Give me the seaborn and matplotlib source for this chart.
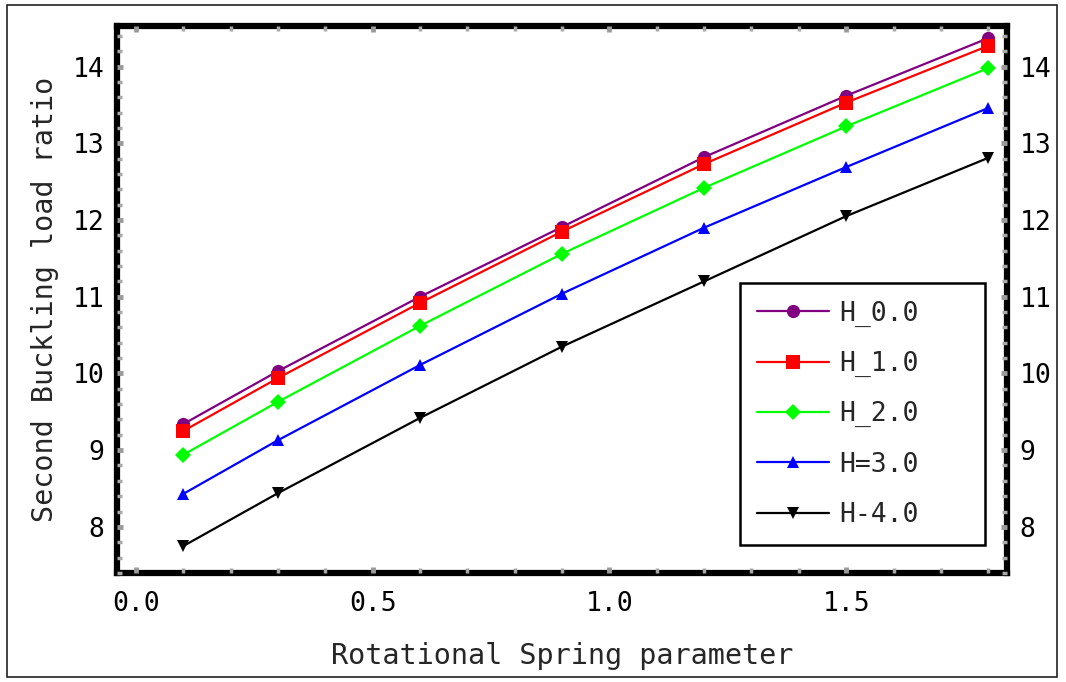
import pandas as pd
import seaborn as sns
import matplotlib.pyplot as plt
from matplotlib.patches import Rectangle
from matplotlib.ticker import MultipleLocator

sns.set_style("white")
plt.rcParams['font.family'] = ['DejaVu Sans Mono']

# spring parameter values
springParam = [0.1, 0.3, 0.6, 0.9, 1.2, 1.5, 1.8]

# second buckling load ratio per H value
h0 = [9.34, 10.03, 11.00, 11.91, 12.82, 13.62, 14.37]
h1 = [9.25, 9.94, 10.92, 11.85, 12.73, 13.53, 14.27]
h2 = [8.94, 9.63, 10.62, 11.56, 12.42, 13.22, 13.98]
h3 = [8.43, 9.13, 10.11, 11.04, 11.90, 12.69, 13.46]
h4 = [7.75, 8.44, 9.42, 10.35, 11.20, 12.05, 12.81]

seriesNames = ["H_0.0", "H_1.0", "H_2.0", "H=3.0", "H-4.0"]
seriesValues = [h0, h1, h2, h3, h4]

rows = []
for name, vals in zip(seriesNames, seriesValues):
    for x, y in zip(springParam, vals):
        rows.append({"spring": x, "ratio": y, "H": name})
df = pd.DataFrame(rows)

colors = dict(zip(seriesNames, ["#800080", "#ff0000", "#00ff00", "#0000ff", "#000000"]))
markers = dict(zip(seriesNames, ["o", "s", "D", "^", "v"]))
msizes = dict(zip(seriesNames, [9.5, 9.5, 8, 8.5, 8.5]))

fig = plt.figure(figsize=(10.66, 6.82), dpi=100)
ax = fig.add_axes([0.1098, 0.16, 0.835, 0.802])

sns.lineplot(data=df, x="spring", y="ratio", hue="H", style="H",
             hue_order=seriesNames, style_order=seriesNames,
             palette=colors, markers=markers, dashes=False,
             linewidth=1.6, markeredgewidth=0, ax=ax)

for line, name in zip(ax.lines, seriesNames):
    line.set_markersize(msizes[name])

ax.set_xlim(-0.04, 1.84)
ax.set_ylim(7.4, 14.53)
ax.xaxis.set_major_locator(MultipleLocator(0.5))
ax.xaxis.set_minor_locator(MultipleLocator(0.1))
ax.yaxis.set_major_locator(MultipleLocator(1))
ax.yaxis.set_minor_locator(MultipleLocator(0.2))
ax.xaxis.set_major_formatter(plt.FormatStrFormatter('%.1f'))

# thick black frame with grey ticks sitting on it
for sp in ax.spines.values():
    sp.set_linewidth(4.5)
    sp.set_color("black")
    sp.set_zorder(1)
ax.xaxis.set_zorder(3)
ax.yaxis.set_zorder(3)

ax.tick_params(which="both", direction="in", bottom=True, left=True,
               top=True, right=True, labelright=True, labelsize=19,
               labelcolor="black")
ax.tick_params(which="major", length=4.5, width=3.5, color="#9a9a9a")
ax.tick_params(which="minor", length=3.5, width=2.5, color="#a8a8a8")
ax.tick_params(axis="x", which="both", pad=13)
ax.tick_params(axis="y", which="both", pad=9)

ax.set_xlabel("Rotational Spring parameter", fontsize=20.5, labelpad=18)
ax.set_ylabel("Second Buckling load ratio", fontsize=20.5, labelpad=10)

leg = ax.legend(loc="lower left", bbox_to_anchor=(0.700, 0.051, 0.275, 0.485),
                mode="expand", fontsize=19, frameon=True, fancybox=False,
                edgecolor="black", framealpha=1, handlelength=2.7,
                labelspacing=0.92, borderpad=0.65, handletextpad=0.4,
                borderaxespad=0, title=None)
leg.get_frame().set_linewidth(1.8)
for handle, name in zip(leg.legend_handles, seriesNames):
    handle.set_markersize(msizes[name])

fig.patches.append(Rectangle((0.007, 0.007), 0.985, 0.986, transform=fig.transFigure,
                             fill=False, edgecolor="#222222", linewidth=1.2))

fig.savefig("out.png", dpi=100)
